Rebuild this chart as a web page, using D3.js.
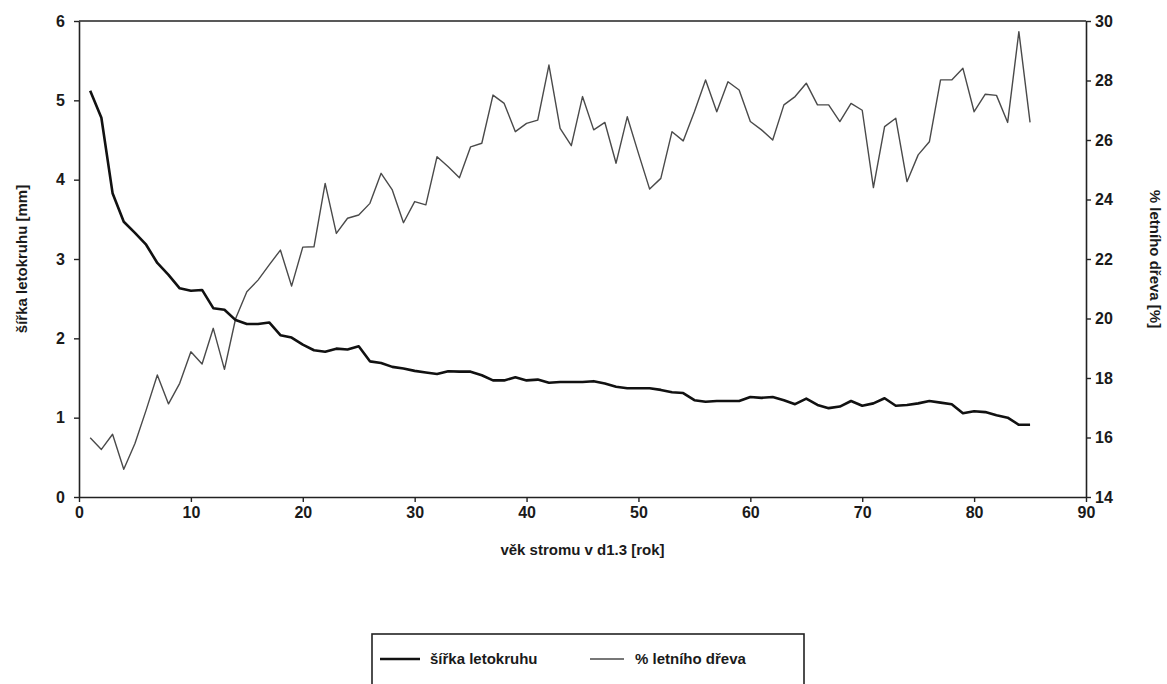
<!DOCTYPE html>
<html>
<head>
<meta charset="utf-8">
<script src="https://cdn.jsdelivr.net/npm/d3@7"></script>
<style>
  body { margin: 0; background: #fff; }
  svg text { font-family: "Liberation Sans", Arial, sans-serif; fill: #1a1a1a; }
</style>
</head>
<body>
<svg id="chart" width="1167" height="684"></svg>
<script>
// ---- data ----
const years = d3.range(1, 86);
const ringWidth = [
  5.12, 4.78, 3.83, 3.47, 3.33, 3.18, 2.95, 2.80, 2.63, 2.60,
  2.61, 2.38, 2.36, 2.23, 2.18, 2.18, 2.20, 2.04, 2.01, 1.92,
  1.85, 1.83, 1.87, 1.86, 1.90, 1.71, 1.69, 1.64, 1.62, 1.59,
  1.57, 1.55, 1.585, 1.58, 1.58, 1.535, 1.47, 1.47, 1.51, 1.47,
  1.48, 1.44, 1.45, 1.45, 1.45, 1.46, 1.43, 1.39, 1.37, 1.37,
  1.37, 1.35, 1.32, 1.31, 1.22, 1.20, 1.21, 1.21, 1.21, 1.26,
  1.25, 1.26, 1.22, 1.17, 1.24, 1.16, 1.12, 1.14, 1.21, 1.15,
  1.18, 1.245, 1.15, 1.16, 1.18, 1.21, 1.19, 1.17, 1.055, 1.08,
  1.07, 1.03, 1.00, 0.91, 0.91
];
const latewood = [
  15.99, 15.60, 16.11, 14.93, 15.80, 16.92, 18.10, 17.13, 17.82, 18.88,
  18.47, 19.67, 18.29, 20.00, 20.90, 21.29, 21.80, 22.30, 21.09, 22.40,
  22.41, 24.54, 22.86, 23.37, 23.48, 23.87, 24.88, 24.32, 23.22, 23.93,
  23.82, 25.44, 25.10, 24.73, 25.77, 25.89, 27.51, 27.23, 26.28, 26.56,
  26.67, 28.52, 26.39, 25.81, 27.46, 26.34, 26.59, 25.22, 26.78, 25.55,
  24.35, 24.71, 26.28, 25.97, 26.95, 28.02, 26.95, 27.96, 27.68, 26.62,
  26.34, 26.00, 27.18, 27.46, 27.91, 27.18, 27.18, 26.62, 27.23, 27.00,
  24.40, 26.45, 26.73, 24.60, 25.50, 25.94, 28.02, 28.02, 28.41, 26.95,
  27.54, 27.50, 26.59, 29.64, 26.59
];
const xTicks = d3.range(0, 91, 10);
const leftTicks = d3.range(0, 7, 1);
const rightTicks = d3.range(14, 31, 2);
const seriesNames = ["šířka letokruhu", "% letního dřeva"];
const xTitle = "věk stromu v d1.3 [rok]";
const leftTitle = "šířka letokruhu [mm]";
const rightTitle = "% letního dřeva [%]";

// ---- layout ----
const svg = d3.select("#chart");
const L = 79, R = 1086, T = 21, B = 497;
const x = d3.scaleLinear().domain([0, 90]).range([L, R]);
const yL = d3.scaleLinear().domain([0, 6]).range([B, T]);
const yR = d3.scaleLinear().domain([14, 30]).range([B, T]);

const axStyle = g => {
  g.selectAll("path.domain").attr("stroke", "#222").attr("stroke-width", 1.6);
  g.selectAll(".tick line").attr("stroke", "#222").attr("stroke-width", 1.4);
  g.selectAll(".tick text").attr("font-size", 16).attr("font-weight", "bold")
    .style("font-family", "'Liberation Sans', Arial, sans-serif").attr("fill", "#1a1a1a");
};
const fmt = d3.format("d");

// frame top
svg.append("line").attr("x1", L).attr("x2", R).attr("y1", T).attr("y2", T)
  .attr("stroke", "#222").attr("stroke-width", 1.6);

svg.append("g").attr("transform", `translate(0,${B})`)
  .call(d3.axisBottom(x).tickValues(xTicks).tickFormat(fmt).tickSize(5).tickPadding(5).tickSizeOuter(0))
  .call(axStyle);
svg.append("g").attr("transform", `translate(${L},0)`)
  .call(d3.axisLeft(yL).tickValues(leftTicks).tickFormat(fmt).tickSize(5).tickPadding(9).tickSizeOuter(0))
  .call(axStyle);
svg.append("g").attr("transform", `translate(${R},0)`)
  .call(d3.axisRight(yR).tickValues(rightTicks).tickFormat(fmt).tickSize(5).tickPadding(4).tickSizeOuter(0))
  .call(axStyle);

// lines
const lineL = d3.line().x((d, i) => x(years[i])).y(d => yL(d));
const lineR = d3.line().x((d, i) => x(years[i])).y(d => yR(d));
svg.append("path").datum(latewood).attr("d", lineR)
  .attr("fill", "none").attr("stroke", "#4a4a4a").attr("stroke-width", 1.4)
  .attr("stroke-linejoin", "round");
svg.append("path").datum(ringWidth).attr("d", lineL)
  .attr("fill", "none").attr("stroke", "#111").attr("stroke-width", 2.6)
  .attr("stroke-linejoin", "round");

// titles
svg.append("text").attr("x", (L + R) / 2).attr("y", 555).attr("text-anchor", "middle")
  .attr("font-size", 15).attr("font-weight", "bold").text(xTitle);
svg.append("text").attr("transform", `translate(27,${(T + B) / 2}) rotate(-90)`)
  .attr("text-anchor", "middle").attr("font-size", 15).attr("font-weight", "bold").text(leftTitle);
svg.append("text").attr("transform", `translate(1150,${(T + B) / 2}) rotate(90)`)
  .attr("text-anchor", "middle").attr("font-size", 15).attr("font-weight", "bold").text(rightTitle);

// legend
const lg = svg.append("g");
lg.append("rect").attr("x", 372).attr("y", 634).attr("width", 432).attr("height", 70)
  .attr("fill", "none").attr("stroke", "#222").attr("stroke-width", 1.6);
const legItems = [
  { name: seriesNames[0], x0: 380, x1: 420, tx: 430, color: "#111", w: 2.6 },
  { name: seriesNames[1], x0: 590, x1: 624, tx: 635, color: "#4a4a4a", w: 1.4 }
];
legItems.forEach(it => {
  lg.append("line").attr("x1", it.x0).attr("x2", it.x1).attr("y1", 659).attr("y2", 659)
    .attr("stroke", it.color).attr("stroke-width", it.w);
  lg.append("text").attr("x", it.tx).attr("y", 664).attr("font-size", 15)
    .attr("font-weight", "bold").text(it.name);
});
</script>
</body>
</html>
